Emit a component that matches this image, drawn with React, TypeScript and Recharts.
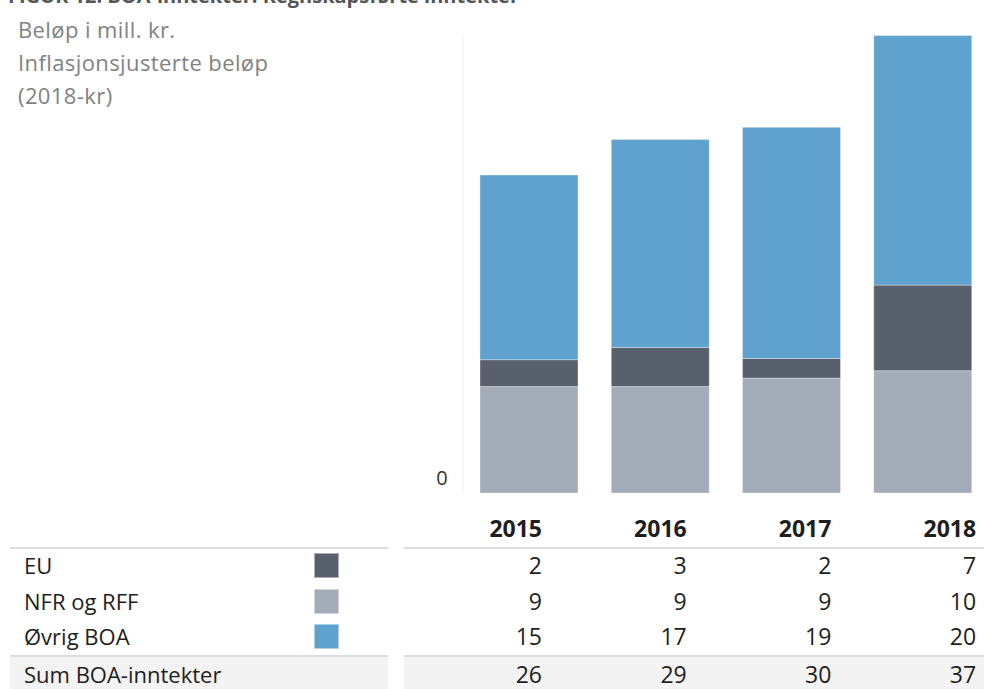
import React from 'react'
import { BarChart, Bar, XAxis, YAxis, CartesianGrid } from 'recharts'

const years = ['2015', '2016', '2017', '2018']
// bar heights (mill. kr)
const euValues = [2.2, 3.2, 1.6, 7.0]
const nfrValues = [8.7, 8.7, 9.4, 10.0]
const ovrigValues = [15.1, 17.0, 18.9, 20.4]
// rounded figures printed in the table
const euTable = [2, 3, 2, 7]
const nfrTable = [9, 9, 9, 10]
const ovrigTable = [15, 17, 19, 20]
const sumTable = [26, 29, 30, 37]

const C_EU = '#57606c'
const C_NFR = '#a3acb9'
const C_OVRIG = '#5fa2ce'

const font = '"Open Sans", sans-serif'

const data = years.map((y, i) => ({
  year: y,
  eu: euValues[i],
  nfr: nfrValues[i],
  ovrig: ovrigValues[i],
}))

const rows = [
  { label: 'EU', color: C_EU, values: euTable, y: 565 },
  { label: 'NFR og RFF', color: C_NFR, values: nfrTable, y: 601 },
  { label: 'Øvrig BOA', color: C_OVRIG, values: ovrigTable, y: 636 },
]

const colRight = (i: number) => 542 + i * 144.7

function ZeroTick(props: any) {
  const { x, y, payload } = props
  return (
    <text x={x - 13} y={y - 8} textAnchor="middle" fill="#333" fontSize={20} fontFamily={font}>
      {payload.value}
    </text>
  )
}

function Cell({ x, y, text, bold, size = 22, align = 'right' }: { x: number; y: number; text: string; bold?: boolean; size?: number; align?: 'left' | 'right' }) {
  const style: React.CSSProperties = {
    position: 'absolute',
    top: y - 16,
    height: 32,
    lineHeight: '32px',
    fontSize: size,
    fontFamily: font,
    fontWeight: bold ? 700 : 400,
    color: '#1e1e1e',
    whiteSpace: 'nowrap',
  }
  if (align === 'right') style.right = 984 - x
  else style.left = x
  return <div style={style}>{text}</div>
}

export default function App() {
  return (
    <div style={{ position: 'absolute', left: 0, top: 0, width: 984, height: 689, overflow: 'hidden', background: '#fff' }}>
      <div style={{ position: 'absolute', left: 8, top: -16, fontSize: 20, lineHeight: '24px', fontWeight: 700, color: '#555', fontFamily: font, whiteSpace: 'nowrap' }}>
        FIGUR 12: BOA-inntekter: Regnskapsførte inntekter
      </div>
      <div style={{ position: 'absolute', left: 18, top: 13, fontSize: 22, lineHeight: '33px', color: '#828282', fontFamily: font, letterSpacing: 0.4 }}>
        <div>Beløp i mill. kr.</div>
        <div>Inflasjonsjusterte beløp</div>
        <div>(2018-kr)</div>
      </div>

      <div style={{ position: 'absolute', left: 0, top: 0 }}>
        <BarChart width={984} height={689} data={data} margin={{ top: 35, right: -4, bottom: 196, left: 423 }} barSize={98}>
          <CartesianGrid horizontal={false} vertical={false} />
          <XAxis dataKey="year" hide />
          <YAxis
            width={40}
            domain={[0, 37.45]}
            ticks={[0]}
            tick={<ZeroTick />}
            tickLine={false}
            axisLine={{ stroke: '#efefef', strokeWidth: 1 }}
          />
          <Bar dataKey="nfr" stackId="a" fill={C_NFR} stroke="#ffffff" strokeOpacity={0.35} strokeWidth={1} isAnimationActive={false} />
          <Bar dataKey="eu" stackId="a" fill={C_EU} stroke="#ffffff" strokeOpacity={0.35} strokeWidth={1} isAnimationActive={false} />
          <Bar dataKey="ovrig" stackId="a" fill={C_OVRIG} stroke="#ffffff" strokeOpacity={0.35} strokeWidth={1} isAnimationActive={false} />
        </BarChart>
      </div>

      {/* table */}
      {years.map((y, i) => (
        <Cell key={y} x={colRight(i)} y={528} text={y} bold size={23} />
      ))}
      <div style={{ position: 'absolute', left: 10, top: 547, width: 378, height: 2, background: '#dcdcdc' }} />
      <div style={{ position: 'absolute', left: 404, top: 547, width: 580, height: 2, background: '#dcdcdc' }} />
      {rows.map((r, ri) => (
        <React.Fragment key={r.label}>
          <Cell x={24} y={r.y} text={r.label} align="left" />
          <div style={{ position: 'absolute', left: 314, top: 553 + ri * 35.5, width: 23, height: 23, background: r.color, border: '1px solid rgba(255,255,255,0.5)' }} />
          {r.values.map((v, i) => (
            <Cell key={i} x={colRight(i)} y={r.y} text={String(v)} size={23} />
          ))}
        </React.Fragment>
      ))}
      <div style={{ position: 'absolute', left: 10, top: 655, width: 378, height: 34, background: '#f3f3f3', borderTop: '2px solid #dcdcdc' }} />
      <div style={{ position: 'absolute', left: 404, top: 655, width: 580, height: 34, background: '#f3f3f3', borderTop: '2px solid #dcdcdc' }} />
      <Cell x={24} y={674} text="Sum BOA-inntekter" align="left" />
      {sumTable.map((v, i) => (
        <Cell key={i} x={colRight(i)} y={674} text={String(v)} size={23} />
      ))}
    </div>
  )
}
